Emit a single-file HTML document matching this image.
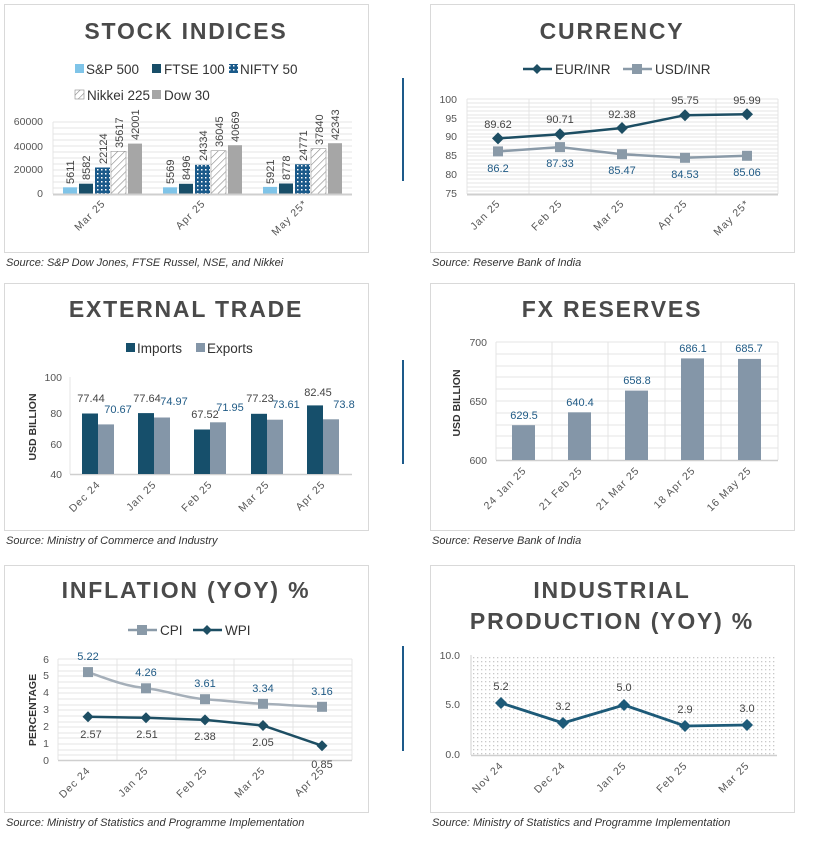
<!DOCTYPE html>
<html><head><meta charset="utf-8"><style>
body{margin:0;background:#fff}
text{font-family:"Liberation Sans",sans-serif}
.t{font-size:23px;font-weight:bold;fill:#4a4a4a;letter-spacing:1.8px;text-anchor:middle}
.ax{font-size:10.5px;fill:#555}
.lg{font-size:13.5px;fill:#333}
.src{font-size:11px;font-style:italic;fill:#333}
.dl{font-size:11px;fill:#444}
.db{font-size:11px;fill:#1f5a85}
.g{stroke:#e4e4e4;stroke-width:1}
</style></head><body>
<svg width="823" height="836" xmlns="http://www.w3.org/2000/svg">
<defs>
<pattern id="dots" width="4" height="4" patternUnits="userSpaceOnUse"><rect width="4" height="4" fill="#1a5a8a"/><rect x="1" y="1" width="1.5" height="1.5" fill="#fff"/></pattern>
<pattern id="hatch" width="5" height="5" patternUnits="userSpaceOnUse" patternTransform="rotate(45)"><rect width="5" height="5" fill="#fff"/><line x1="0" y1="0" x2="0" y2="5" stroke="#888" stroke-width="1.2"/></pattern>
<pattern id="pd" width="4" height="4" patternUnits="userSpaceOnUse"><rect width="4" height="4" fill="#fff"/><rect x="1" y="1" width="1.3" height="1.3" fill="#c8c8c8"/></pattern>
</defs>
<!-- panel boxes -->
<g fill="none" stroke="#d9d9d9">
<rect x="4.5" y="4.5" width="364" height="248"/><rect x="430.5" y="4.5" width="364" height="248"/>
<rect x="4.5" y="283.5" width="364" height="247"/><rect x="430.5" y="283.5" width="364" height="247"/>
<rect x="4.5" y="565.5" width="364" height="247"/><rect x="430.5" y="565.5" width="364" height="247"/>
</g>
<g stroke="#1d5a8a" stroke-width="2"><line x1="403" y1="78" x2="403" y2="181"/><line x1="403" y1="360" x2="403" y2="464"/><line x1="403" y1="646" x2="403" y2="751"/></g>
<text class="src" x="6" y="266">Source: S&amp;P Dow Jones, FTSE Russel, NSE, and Nikkei</text>
<text class="src" x="432" y="266">Source: Reserve Bank of India</text>
<text class="src" x="6" y="544">Source: Ministry of Commerce and Industry</text>
<text class="src" x="432" y="544">Source: Reserve Bank of India</text>
<text class="src" x="6" y="826">Source: Ministry of Statistics and Programme Implementation</text>
<text class="src" x="432" y="826">Source: Ministry of Statistics and Programme Implementation</text>

<!-- STOCK INDICES -->
<text class="t" x="186" y="39">STOCK INDICES</text>
<rect x="75" y="64" width="9" height="9" fill="#7fc4e8"/><text class="lg" x="86" y="74">S&amp;P 500</text>
<rect x="152" y="64" width="9" height="9" fill="#184e68"/><text class="lg" x="164" y="74">FTSE 100</text>
<rect x="229" y="64" width="9" height="9" fill="url(#dots)"/><text class="lg" x="240" y="74">NIFTY 50</text>
<rect x="75" y="90" width="9" height="9" fill="url(#hatch)" stroke="#888" stroke-width=".6"/><text class="lg" x="87" y="100">Nikkei 225</text>
<rect x="152" y="90" width="9" height="9" fill="#a6a6a6"/><text class="lg" x="164" y="100">Dow 30</text>
<g class="g"><line x1="53" y1="122" x2="352" y2="122"/><line x1="53" y1="128" x2="352" y2="128"/><line x1="53" y1="134" x2="352" y2="134"/><line x1="53" y1="140" x2="352" y2="140"/><line x1="53" y1="146" x2="352" y2="146"/><line x1="53" y1="152" x2="352" y2="152"/><line x1="53" y1="158" x2="352" y2="158"/><line x1="53" y1="164" x2="352" y2="164"/><line x1="53" y1="170" x2="352" y2="170"/><line x1="53" y1="176" x2="352" y2="176"/><line x1="53" y1="182" x2="352" y2="182"/><line x1="53" y1="188" x2="352" y2="188"/><line x1="53" y1="122" x2="53" y2="194"/></g>
<g class="ax" text-anchor="end"><text x="43" y="125">60000</text><text x="43" y="150">40000</text><text x="43" y="173">20000</text><text x="43" y="197">0</text></g>
<g id="sg">
<rect x="63" y="187.3" width="14" height="6.7" fill="#7fc4e8"/>
<rect x="79" y="183.7" width="14" height="10.3" fill="#184e68"/>
<rect x="95" y="167.5" width="15" height="26.5" fill="url(#dots)"/>
<rect x="111" y="151.3" width="15" height="42.7" fill="url(#hatch)" stroke="#999" stroke-width=".6"/>
<rect x="128" y="143.6" width="14" height="50.4" fill="#a6a6a6"/>
</g>
<g transform="translate(100,0)">
<rect x="63" y="187.3" width="14" height="6.7" fill="#7fc4e8"/>
<rect x="79" y="183.8" width="14" height="10.2" fill="#184e68"/>
<rect x="95" y="164.8" width="15" height="29.2" fill="url(#dots)"/>
<rect x="111" y="150.7" width="15" height="43.3" fill="url(#hatch)" stroke="#999" stroke-width=".6"/>
<rect x="128" y="145.2" width="14" height="48.8" fill="#a6a6a6"/>
</g>
<g transform="translate(200,0)">
<rect x="63" y="186.9" width="14" height="7.1" fill="#7fc4e8"/>
<rect x="79" y="183.5" width="14" height="10.5" fill="#184e68"/>
<rect x="95" y="164.3" width="15" height="29.7" fill="url(#dots)"/>
<rect x="111" y="148.6" width="15" height="45.4" fill="url(#hatch)" stroke="#999" stroke-width=".6"/>
<rect x="128" y="143.2" width="14" height="50.8" fill="#a6a6a6"/>
</g>
<line x1="53" y1="194.5" x2="352" y2="194.5" stroke="#cfcfcf" stroke-width="2"/>
<g class="dl">
<text transform="translate(74,184) rotate(-90)">5611</text><text transform="translate(90,180) rotate(-90)">8582</text><text transform="translate(107,164) rotate(-90)">22124</text><text transform="translate(123,148) rotate(-90)">35617</text><text transform="translate(139,140) rotate(-90)">42001</text>
<text transform="translate(174,184) rotate(-90)">5569</text><text transform="translate(190,180) rotate(-90)">8496</text><text transform="translate(207,161) rotate(-90)">24334</text><text transform="translate(223,147) rotate(-90)">36045</text><text transform="translate(239,142) rotate(-90)">40669</text>
<text transform="translate(274,184) rotate(-90)">5921</text><text transform="translate(290,180) rotate(-90)">8778</text><text transform="translate(307,161) rotate(-90)">24771</text><text transform="translate(323,145) rotate(-90)">37840</text><text transform="translate(339,140) rotate(-90)">42343</text>
</g>
<g class="ax" text-anchor="end" letter-spacing="1">
<text transform="translate(106,204) rotate(-45)">Mar 25</text><text transform="translate(206,204) rotate(-45)">Apr 25</text><text transform="translate(308,204) rotate(-45)">May 25*</text>
</g>

<!-- CURRENCY -->
<text class="t" x="612" y="39">CURRENCY</text>
<line x1="523" y1="69" x2="552" y2="69" stroke="#1d4e63" stroke-width="2.5"/><path d="M537 64 L542 69 L537 74 L532 69Z" fill="#1d4e63"/><text class="lg" x="555" y="74">EUR/INR</text>
<line x1="623" y1="69" x2="652" y2="69" stroke="#8a9aa8" stroke-width="2.5"/><rect x="632" y="64" width="10" height="10" fill="#8a9aa8"/><text class="lg" x="655" y="74">USD/INR</text>
<g class="g">
<line x1="467" y1="99" x2="778" y2="99"/><line x1="467" y1="103" x2="778" y2="103"/><line x1="467" y1="107" x2="778" y2="107"/><line x1="467" y1="111" x2="778" y2="111"/><line x1="467" y1="115" x2="778" y2="115"/><line x1="467" y1="118" x2="778" y2="118"/><line x1="467" y1="122" x2="778" y2="122"/><line x1="467" y1="126" x2="778" y2="126"/><line x1="467" y1="130" x2="778" y2="130"/><line x1="467" y1="134" x2="778" y2="134"/><line x1="467" y1="137" x2="778" y2="137"/><line x1="467" y1="141" x2="778" y2="141"/><line x1="467" y1="145" x2="778" y2="145"/><line x1="467" y1="149" x2="778" y2="149"/><line x1="467" y1="153" x2="778" y2="153"/><line x1="467" y1="156" x2="778" y2="156"/><line x1="467" y1="160" x2="778" y2="160"/><line x1="467" y1="164" x2="778" y2="164"/><line x1="467" y1="168" x2="778" y2="168"/><line x1="467" y1="172" x2="778" y2="172"/><line x1="467" y1="175" x2="778" y2="175"/><line x1="467" y1="179" x2="778" y2="179"/><line x1="467" y1="183" x2="778" y2="183"/><line x1="467" y1="187" x2="778" y2="187"/><line x1="467" y1="191" x2="778" y2="191"/>
<line x1="467" y1="99" x2="467" y2="194"/><line x1="529" y1="99" x2="529" y2="194"/><line x1="591" y1="99" x2="591" y2="194"/><line x1="654" y1="99" x2="654" y2="194"/><line x1="716" y1="99" x2="716" y2="194"/><line x1="778" y1="99" x2="778" y2="194"/>
</g>
<line x1="467" y1="194.5" x2="778" y2="194.5" stroke="#cfcfcf" stroke-width="2"/>
<g class="ax" text-anchor="end"><text x="457" y="103">100</text><text x="457" y="122">95</text><text x="457" y="140">90</text><text x="457" y="159">85</text><text x="457" y="178">80</text><text x="457" y="197">75</text></g>
<polyline points="498,138.4 560,134.2 622,128 685,115.2 747,114.2" fill="none" stroke="#1d4e63" stroke-width="2.5"/>
<g fill="#1d4e63"><path d="M498 132.4l6 6-6 6-6-6z"/><path d="M560 128.2l6 6-6 6-6-6z"/><path d="M622 122l6 6-6 6-6-6z"/><path d="M685 109.2l6 6-6 6-6-6z"/><path d="M747 108.2l6 6-6 6-6-6z"/></g>
<polyline points="498,151.4 560,147.1 622,154.2 685,157.8 747,155.8" fill="none" stroke="#8a9aa8" stroke-width="2.5"/>
<g fill="#8a9aa8"><rect x="493" y="146.4" width="10" height="10"/><rect x="555" y="142.1" width="10" height="10"/><rect x="617" y="149.2" width="10" height="10"/><rect x="680" y="152.8" width="10" height="10"/><rect x="742" y="150.8" width="10" height="10"/></g>
<g class="dl" text-anchor="middle"><text x="498" y="128">89.62</text><text x="560" y="123">90.71</text><text x="622" y="118">92.38</text><text x="685" y="104">95.75</text><text x="747" y="104">95.99</text></g>
<g class="db" text-anchor="middle"><text x="498" y="172">86.2</text><text x="560" y="167">87.33</text><text x="622" y="174">85.47</text><text x="685" y="178">84.53</text><text x="747" y="176">85.06</text></g>
<g class="ax" text-anchor="end" letter-spacing="1">
<text transform="translate(501,204) rotate(-45)">Jan 25</text><text transform="translate(563,204) rotate(-45)">Feb 25</text><text transform="translate(625,204) rotate(-45)">Mar 25</text><text transform="translate(688,204) rotate(-45)">Apr 25</text><text transform="translate(750,204) rotate(-45)">May 25*</text>
</g>

<!-- EXTERNAL TRADE -->
<text class="t" x="186" y="317">EXTERNAL TRADE</text>
<rect x="126" y="343" width="9" height="9" fill="#164f6b"/><text class="lg" x="137" y="353">Imports</text>
<rect x="196" y="343" width="9" height="9" fill="#8496a8"/><text class="lg" x="207" y="353">Exports</text>
<line x1="70" y1="377" x2="70" y2="474" stroke="#e4e4e4"/>
<line x1="70" y1="474.5" x2="352" y2="474.5" stroke="#cfcfcf" stroke-width="1.5"/>
<g class="ax" text-anchor="end"><text x="62" y="381">100</text><text x="62" y="417">80</text><text x="62" y="448">60</text><text x="62" y="478">40</text></g>
<text transform="translate(36,427) rotate(-90)" text-anchor="middle" font-size="10.5" font-weight="bold" fill="#333">USD BILLION</text>
<g fill="#164f6b"><rect x="82" y="413.5" width="16" height="60.5"/><rect x="138" y="413.1" width="16" height="60.9"/><rect x="194" y="429.5" width="16" height="44.5"/><rect x="251" y="413.8" width="16" height="60.2"/><rect x="307" y="405.4" width="16" height="68.6"/></g>
<g fill="#8496a8"><rect x="98" y="424.4" width="16" height="49.6"/><rect x="154" y="417.5" width="16" height="56.5"/><rect x="210" y="422.3" width="16" height="51.7"/><rect x="267" y="419.7" width="16" height="54.3"/><rect x="323" y="419.3" width="16" height="54.7"/></g>
<g class="dl" text-anchor="middle"><text x="91" y="402">77.44</text><text x="147" y="402">77.64</text><text x="205" y="418">67.52</text><text x="260" y="402">77.23</text><text x="318" y="396">82.45</text></g>
<g class="db" text-anchor="middle"><text x="118" y="413">70.67</text><text x="174" y="405">74.97</text><text x="230" y="411">71.95</text><text x="286" y="408">73.61</text><text x="344" y="408">73.8</text></g>
<g class="ax" text-anchor="end" letter-spacing="1">
<text transform="translate(101,485) rotate(-45)">Dec 24</text><text transform="translate(157,485) rotate(-45)">Jan 25</text><text transform="translate(213,485) rotate(-45)">Feb 25</text><text transform="translate(270,485) rotate(-45)">Mar 25</text><text transform="translate(326,485) rotate(-45)">Apr 25</text>
</g>

<!-- FX RESERVES -->
<text class="t" x="612" y="317">FX RESERVES</text>
<g class="g">
<line x1="496" y1="342" x2="778" y2="342"/><line x1="496" y1="354" x2="778" y2="354"/><line x1="496" y1="366" x2="778" y2="366"/><line x1="496" y1="377" x2="778" y2="377"/><line x1="496" y1="389" x2="778" y2="389"/><line x1="496" y1="401" x2="778" y2="401"/><line x1="496" y1="413" x2="778" y2="413"/><line x1="496" y1="425" x2="778" y2="425"/><line x1="496" y1="436" x2="778" y2="436"/><line x1="496" y1="448" x2="778" y2="448"/>
<line x1="496" y1="342" x2="496" y2="460"/><line x1="552" y1="342" x2="552" y2="460"/><line x1="608" y1="342" x2="608" y2="460"/><line x1="665" y1="342" x2="665" y2="460"/><line x1="721" y1="342" x2="721" y2="460"/><line x1="778" y1="342" x2="778" y2="460"/>
</g>
<line x1="496" y1="460.5" x2="778" y2="460.5" stroke="#cfcfcf" stroke-width="1.5"/>
<g class="ax" text-anchor="end"><text x="487" y="346">700</text><text x="487" y="405">650</text><text x="487" y="464">600</text></g>
<text transform="translate(460,403) rotate(-90)" text-anchor="middle" font-size="10.5" font-weight="bold" fill="#333">USD BILLION</text>
<g fill="#8496a8"><rect x="512" y="425.2" width="23" height="34.8"/><rect x="568" y="412.3" width="23" height="47.7"/><rect x="625" y="390.6" width="23" height="69.4"/><rect x="681" y="358.4" width="23" height="101.6"/><rect x="738" y="358.9" width="23" height="101.1"/></g>
<g class="db" text-anchor="middle"><text x="524" y="419">629.5</text><text x="580" y="406">640.4</text><text x="637" y="384">658.8</text><text x="693" y="352">686.1</text><text x="749" y="352">685.7</text></g>
<g class="ax" text-anchor="end" letter-spacing="1">
<text transform="translate(527,471) rotate(-45)">24 Jan 25</text><text transform="translate(583,471) rotate(-45)">21 Feb 25</text><text transform="translate(640,471) rotate(-45)">21 Mar 25</text><text transform="translate(696,471) rotate(-45)">18 Apr 25</text><text transform="translate(752,471) rotate(-45)">16 May 25</text>
</g>

<!-- INFLATION -->
<text class="t" x="186" y="598">INFLATION (YOY) %</text>
<line x1="128" y1="630" x2="157" y2="630" stroke="#8a9aa8" stroke-width="2.5"/><rect x="137" y="625" width="10" height="10" fill="#8a9aa8"/><text class="lg" x="160" y="635">CPI</text>
<line x1="193" y1="630" x2="222" y2="630" stroke="#1d4e63" stroke-width="2.5"/><path d="M207 625l5 5-5 5-5-5z" fill="#1d4e63"/><text class="lg" x="225" y="635">WPI</text>
<g class="g">
<line x1="58" y1="659" x2="352" y2="659"/><line x1="58" y1="665" x2="352" y2="665"/><line x1="58" y1="671" x2="352" y2="671"/><line x1="58" y1="676" x2="352" y2="676"/><line x1="58" y1="682" x2="352" y2="682"/><line x1="58" y1="688" x2="352" y2="688"/><line x1="58" y1="693" x2="352" y2="693"/><line x1="58" y1="699" x2="352" y2="699"/><line x1="58" y1="705" x2="352" y2="705"/><line x1="58" y1="710" x2="352" y2="710"/><line x1="58" y1="716" x2="352" y2="716"/><line x1="58" y1="722" x2="352" y2="722"/><line x1="58" y1="727" x2="352" y2="727"/><line x1="58" y1="733" x2="352" y2="733"/><line x1="58" y1="738" x2="352" y2="738"/><line x1="58" y1="744" x2="352" y2="744"/><line x1="58" y1="750" x2="352" y2="750"/><line x1="58" y1="755" x2="352" y2="755"/>
<line x1="58" y1="659" x2="58" y2="760"/><line x1="117" y1="659" x2="117" y2="760"/><line x1="176" y1="659" x2="176" y2="760"/><line x1="234" y1="659" x2="234" y2="760"/><line x1="293" y1="659" x2="293" y2="760"/><line x1="352" y1="659" x2="352" y2="760"/>
</g>
<line x1="58" y1="760.5" x2="352" y2="760.5" stroke="#cfcfcf" stroke-width="1.5"/>
<g class="ax" text-anchor="end"><text x="49" y="663">6</text><text x="49" y="679">5</text><text x="49" y="696">4</text><text x="49" y="713">3</text><text x="49" y="730">2</text><text x="49" y="747">1</text><text x="49" y="764">0</text></g>
<text transform="translate(36,710) rotate(-90)" text-anchor="middle" font-size="10.5" font-weight="bold" fill="#333">PERCENTAGE</text>
<path d="M88 672.1 C110 680 125 686 146 688.3 S185 698 205 699.2 S245 703 263 703.8 S300 706 322 706.8" fill="none" stroke="#a5afb9" stroke-width="2.5"/>
<g fill="#8a9aa8"><rect x="83" y="667.1" width="10" height="10"/><rect x="141" y="683.3" width="10" height="10"/><rect x="200" y="694.2" width="10" height="10"/><rect x="258" y="698.8" width="10" height="10"/><rect x="317" y="701.8" width="10" height="10"/></g>
<polyline points="88,716.7 146,717.8 205,719.9 263,725.5 322,745.7" fill="none" stroke="#1d4e63" stroke-width="2.5"/>
<g fill="#1d4e63"><path d="M88 711.2l5.5 5.5-5.5 5.5-5.5-5.5z"/><path d="M146 712.3l5.5 5.5-5.5 5.5-5.5-5.5z"/><path d="M205 714.4l5.5 5.5-5.5 5.5-5.5-5.5z"/><path d="M263 720l5.5 5.5-5.5 5.5-5.5-5.5z"/><path d="M322 740.2l5.5 5.5-5.5 5.5-5.5-5.5z"/></g>
<g class="db" text-anchor="middle"><text x="88" y="660">5.22</text><text x="146" y="676">4.26</text><text x="205" y="687">3.61</text><text x="263" y="692">3.34</text><text x="322" y="695">3.16</text></g>
<g class="dl" text-anchor="middle"><text x="91" y="738">2.57</text><text x="147" y="738">2.51</text><text x="205" y="740">2.38</text><text x="263" y="746">2.05</text><text x="322" y="768">0.85</text></g>
<g class="ax" text-anchor="end" letter-spacing="1">
<text transform="translate(91,771) rotate(-45)">Dec 24</text><text transform="translate(149,771) rotate(-45)">Jan 25</text><text transform="translate(208,771) rotate(-45)">Feb 25</text><text transform="translate(266,771) rotate(-45)">Mar 25</text><text transform="translate(325,771) rotate(-45)">Apr 25</text>
</g>

<!-- INDUSTRIAL -->
<text class="t" x="612" y="598">INDUSTRIAL</text>
<text class="t" x="612" y="629">PRODUCTION (YOY) %</text>
<rect x="471" y="655" width="306" height="100" fill="url(#pd)"/>
<line x1="471" y1="655" x2="471" y2="755" stroke="#d0d0d0"/>
<line x1="471" y1="755.5" x2="777" y2="755.5" stroke="#cfcfcf" stroke-width="1.5"/>
<g class="ax" text-anchor="end"><text x="460" y="659">10.0</text><text x="460" y="708">5.0</text><text x="460" y="758">0.0</text></g>
<polyline points="501,703 563,723 624,705 685,726 747,725" fill="none" stroke="#1d5a78" stroke-width="2.8"/>
<g fill="#1d5a78"><path d="M501 697l6 6-6 6-6-6z"/><path d="M563 717l6 6-6 6-6-6z"/><path d="M624 699l6 6-6 6-6-6z"/><path d="M685 720l6 6-6 6-6-6z"/><path d="M747 719l6 6-6 6-6-6z"/></g>
<g class="dl" text-anchor="middle"><text x="501" y="690">5.2</text><text x="563" y="710">3.2</text><text x="624" y="691">5.0</text><text x="685" y="713">2.9</text><text x="747" y="712">3.0</text></g>
<g class="ax" text-anchor="end" letter-spacing="1">
<text transform="translate(504,766) rotate(-45)">Nov 24</text><text transform="translate(566,766) rotate(-45)">Dec 24</text><text transform="translate(627,766) rotate(-45)">Jan 25</text><text transform="translate(688,766) rotate(-45)">Feb 25</text><text transform="translate(750,766) rotate(-45)">Mar 25</text>
</g>
</svg>
</body></html>
